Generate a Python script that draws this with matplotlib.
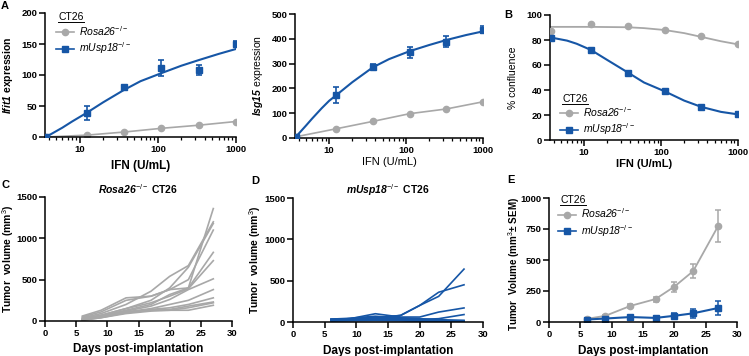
import matplotlib
matplotlib.use('Agg')
import matplotlib.pyplot as plt
from matplotlib.lines import Line2D
from matplotlib.ticker import LogLocator, NullFormatter, FixedLocator

plt.rcParams['font.family'] = ['Liberation Sans', 'DejaVu Sans']
plt.rcParams['mathtext.fontset'] = 'custom'
plt.rcParams['mathtext.rm'] = 'Liberation Sans'
plt.rcParams['mathtext.it'] = 'Liberation Sans:italic'
plt.rcParams['mathtext.bf'] = 'Liberation Sans:bold'
plt.rcParams['mathtext.sf'] = 'Liberation Sans:italic:bold'

BLUE = '#1656a6'
GRAY = '#a8a8a8'

# --- A / B: IFN dose response ---
ifn = [3.7, 12.3, 37, 111, 333, 1000]

ifit1_rosa = [0, 3, 8, 14, 19, 25]
ifit1_usp = [0, 39, 80, 111, 108, 150]
ifit1_usp_err = [0, 11, 2, 13, 8, 5]
ifit1_fit_x = [3.7, 6, 8, 12.3, 20, 37, 60, 111, 200, 333, 600, 1000]
ifit1_fit_y = [0, 15, 25, 39, 56, 76, 90, 103, 115, 124, 134, 142]

isg15_rosa = [5, 37, 67, 98, 117, 146]
isg15_usp = [5, 173, 288, 345, 388, 437]
isg15_usp_err = [0, 31, 9, 23, 22, 14]
isg15_fit_x = [3.7, 5, 6, 8, 10, 12.3, 20, 37, 60, 111, 200, 333, 600, 1000]
isg15_fit_y = [5, 50, 78, 120, 150, 172, 225, 285, 318, 350, 375, 395, 415, 430]

conf_rosa = [87, 92.5, 91.5, 88, 83, 77]
conf_usp = [82, 72, 54, 39.5, 26.5, 21]
conf_rosa_fit_x = [3.7, 12.3, 37, 60, 111, 200, 333, 600, 1000]
conf_rosa_fit_y = [90.5, 90.5, 90.2, 89.5, 88, 85.5, 82.5, 79, 76.5]
conf_usp_fit_x = [3.7, 6, 8, 12.3, 20, 37, 60, 111, 200, 333, 600, 1000]
conf_usp_fit_y = [82, 79.5, 77, 72, 64, 54, 46, 39, 31.5, 26.5, 22.5, 20.5]

# --- C / D / E: tumour growth ---
days = [6, 9, 13, 17, 20, 23, 27]
rosa_mice = [
    [60, 130, 280, 300, 380, 400, 1360],
    [40, 90, 200, 360, 540, 670, 1200],
    [30, 70, 150, 250, 400, 650, 1180],
    [50, 110, 250, 300, 380, 500, 1100],
    [20, 60, 130, 200, 320, 400, 830],
    [30, 70, 150, 220, 300, 390, 730],
    [20, 50, 120, 180, 260, 380, 510],
    [15, 50, 110, 150, 200, 250, 380],
    [10, 40, 100, 140, 160, 200, 280],
    [15, 45, 110, 130, 140, 180, 230],
    [10, 40, 90, 120, 130, 160, 220],
    [20, 50, 100, 130, 130, 130, 190],
]
usp_mice = [
    [30, 40, 40, 80, 200, 360, 450],
    [30, 35, 50, 80, 200, 310, 640],
    [30, 40, 100, 60, 60, 120, 170],
    [20, 30, 40, 40, 30, 40, 90],
    [20, 25, 30, 30, 20, 20, 20],
    [30, 40, 60, 50, 40, 30, 15],
    [10, 15, 20, 20, 10, 10, 5],
    [20, 20, 20, 15, 10, 5, 5],
    [35, 45, 70, 50, 20, 10, 0],
]
rosa_mean = [25, 50, 130, 185, 285, 410, 775]
rosa_sem = [5, 8, 15, 20, 40, 55, 130]
usp_mean = [20, 28, 40, 33, 50, 70, 113]
usp_sem = [4, 5, 6, 6, 20, 35, 60]

fig = plt.figure(figsize=(7.49, 3.56), dpi=100)

W, H = 749.0, 356.0


def px_axes(left, top, right, bottom):
    return fig.add_axes([left / W, 1 - bottom / H, (right - left) / W, (bottom - top) / H])


def style(ax):
    for s in ['top', 'right']:
        ax.spines[s].set_visible(False)
    for s in ['left', 'bottom']:
        ax.spines[s].set_linewidth(1.1)
    ax.tick_params(which='major', length=4, width=1.1, labelsize=6.8, pad=1.5)
    ax.tick_params(which='minor', length=2.5, width=0.9)
    for lab in ax.get_xticklabels() + ax.get_yticklabels():
        lab.set_fontweight('bold')


def log_x(ax):
    ax.set_xscale('log')
    ax.set_xlim(3.6, 1000)
    ax.xaxis.set_major_locator(FixedLocator([10, 100, 1000]))
    ax.set_xticklabels(['10', '100', '1000'])
    ax.xaxis.set_minor_locator(LogLocator(base=10, subs=range(2, 10)))
    ax.xaxis.set_minor_formatter(NullFormatter())


ylab_kw = dict(fontsize=7.5, fontweight='bold')
leg_kw = dict(frameon=False, fontsize=7.5, handlelength=1.7, handletextpad=0.5,
              labelspacing=0.25, borderaxespad=0, borderpad=0)
leg_handles = [
    Line2D([], [], color=GRAY, marker='o', markersize=4.5, lw=1.2),
    Line2D([], [], color=BLUE, marker='s', markersize=4.5, lw=1.2),
]
leg_labels = ['Rosa26$^{-/-}$', 'mUsp18$^{-/-}$']

underlines = []


def legend(ax, x, ytitle, yleg):
    t = ax.text(x, ytitle, 'CT26', transform=ax.transAxes, fontsize=7.5,
                va='center', ha='left')
    underlines.append(t)
    lg = ax.legend(leg_handles, leg_labels, loc='upper left',
                   bbox_to_anchor=(x - 0.01, yleg), **leg_kw)
    for tx in lg.get_texts():
        tx.set_fontstyle('italic')


# A1 Ifit1
ax = px_axes(45, 13, 236, 137)
ax.plot(ifn, ifit1_rosa, '-o', color=GRAY, markersize=4.5, lw=1.2, zorder=2)
ax.plot(ifit1_fit_x, ifit1_fit_y, '-', color=BLUE, lw=1.5, zorder=3)
ax.errorbar(ifn, ifit1_usp, yerr=ifit1_usp_err, fmt='s', color=BLUE, markersize=4.5,
            capsize=2.5, elinewidth=1.2, capthick=1.2, zorder=4)
log_x(ax)
ax.set_ylim(0, 200)
ax.set_yticks([0, 50, 100, 150, 200])
ax.set_xlabel('IFN (U/mL)', fontsize=8.5, fontweight='bold')
ax.set_ylabel(r'$\mathsf{Ifit1}$ expression', **ylab_kw)
ax.xaxis.set_label_coords(0.5, -0.185)
ax.yaxis.set_label_coords(-0.155, 0.5)
style(ax)
legend(ax, 0.07, 0.968, 0.91)

# A2 Isg15
ax = px_axes(295, 14, 483, 138)
ax.plot(ifn, isg15_rosa, '-o', color=GRAY, markersize=4.5, lw=1.2, zorder=2)
ax.plot(isg15_fit_x, isg15_fit_y, '-', color=BLUE, lw=1.5, zorder=3)
ax.errorbar(ifn, isg15_usp, yerr=isg15_usp_err, fmt='s', color=BLUE, markersize=4.5,
            capsize=2.5, elinewidth=1.2, capthick=1.2, zorder=4)
log_x(ax)
ax.set_ylim(0, 500)
ax.set_yticks([0, 100, 200, 300, 400, 500])
ax.set_xlabel('IFN (U/mL)', fontsize=8, fontweight='normal')
ax.set_ylabel(r'$\mathsf{Isg15}$ expression', fontsize=7.5)
ax.xaxis.set_label_coords(0.5, -0.155)
ax.yaxis.set_label_coords(-0.16, 0.5)
style(ax)

# B confluence
ax = px_axes(550, 15, 738, 140)
ax.plot(conf_rosa_fit_x, conf_rosa_fit_y, '-', color=GRAY, lw=1.3, zorder=2)
ax.plot(ifn, conf_rosa, 'o', color=GRAY, markersize=4.5, zorder=3)
ax.plot(conf_usp_fit_x, conf_usp_fit_y, '-', color=BLUE, lw=1.5, zorder=3)
ax.plot(ifn, conf_usp, 's', color=BLUE, markersize=4.5, zorder=4)
log_x(ax)
ax.set_ylim(0, 100)
ax.set_yticks([0, 20, 40, 60, 80, 100])
ax.set_xlabel('IFN (U/mL)', fontsize=8, fontweight='bold')
ax.set_ylabel('% confluence', fontsize=7.5)
ax.xaxis.set_label_coords(0.5, -0.15)
ax.yaxis.set_label_coords(-0.17, 0.5)
style(ax)
legend(ax, 0.065, 0.33, 0.28)

# C Rosa26 individual
ax = px_axes(45, 197, 232, 321)
for m in rosa_mice:
    ax.plot(days, m, '-', color=GRAY, lw=1.2)
ax.set_xlim(0, 30)
ax.set_ylim(0, 1500)
ax.set_xticks(range(0, 31, 5))
ax.set_yticks([0, 500, 1000, 1500])
ax.set_xlabel('Days post-implantation', fontsize=8.5, fontweight='bold')
ax.set_ylabel('Tumor  volume (mm$^3$)', **ylab_kw)
ax.xaxis.set_label_coords(0.5, -0.175)
ax.yaxis.set_label_coords(-0.155, 0.5)
ax.set_title(r'$\mathsf{Rosa26}^{-/-}$ CT26', fontsize=7.5, fontweight='bold', pad=2.5)
style(ax)

# D mUsp18 individual
ax = px_axes(293, 198, 483, 322)
for m in usp_mice:
    ax.plot(days, m, '-', color=BLUE, lw=1.2)
ax.set_xlim(0, 30)
ax.set_ylim(0, 1500)
ax.set_xticks(range(0, 31, 5))
ax.set_yticks([0, 500, 1000, 1500])
ax.set_xlabel('Days post-implantation', fontsize=8.5, fontweight='bold')
ax.set_ylabel('Tumor  volume (mm$^3$)', **ylab_kw)
ax.xaxis.set_label_coords(0.5, -0.185)
ax.yaxis.set_label_coords(-0.158, 0.5)
ax.set_title(r'$\mathsf{mUsp18}^{-/-}$ CT26', fontsize=7.5, fontweight='bold', pad=2.5)
style(ax)

# E means
ax = px_axes(549, 198, 737, 322)
ax.errorbar(days, rosa_mean, yerr=rosa_sem, fmt='-o', color=GRAY, markersize=4.5,
            lw=1.3, capsize=2.5, elinewidth=1.1, capthick=1.1)
ax.errorbar(days, usp_mean, yerr=usp_sem, fmt='-s', color=BLUE, markersize=4,
            lw=1.5, capsize=2.5, elinewidth=1.1, capthick=1.1)
ax.set_xlim(0, 30)
ax.set_ylim(0, 1000)
ax.set_xticks(range(0, 31, 5))
ax.set_yticks([0, 250, 500, 750, 1000])
ax.set_xlabel('Days post-implantation', fontsize=8.5, fontweight='bold')
ax.set_ylabel('Tumor  Volume (mm$^3$± SEM)', fontsize=7.1, fontweight='bold')
ax.xaxis.set_label_coords(0.5, -0.185)
ax.yaxis.set_label_coords(-0.145, 0.47)
style(ax)
legend(ax, 0.06, 0.985, 0.93)

# panel letters
for letter, x, y in [('A', 5, 6), ('B', 508, 15), ('C', 5, 185), ('D', 255, 181), ('E', 511, 180)]:
    fig.text(x / W, 1 - y / H, letter, fontsize=8, fontweight='bold', ha='center', va='center')

# underline the legend titles
fig.canvas.draw()
r = fig.canvas.get_renderer()
for t in underlines:
    bb = t.get_window_extent(r)
    fig.add_artist(Line2D([bb.x0 / W, bb.x1 / W], [(bb.y0 - 0.5) / H, (bb.y0 - 0.5) / H],
                          transform=fig.transFigure, color='black', lw=0.7))

fig.savefig('out.png', dpi=100)
